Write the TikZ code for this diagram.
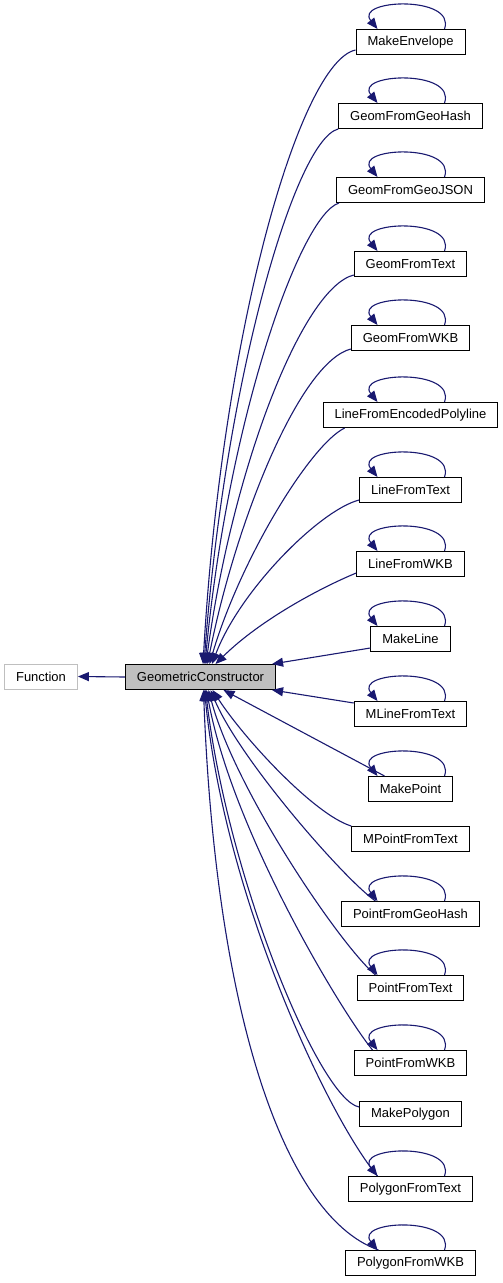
\documentclass[tikz,border=0pt]{standalone}
\usepackage{fontspec}
\setmainfont{Liberation Sans}
\usepackage{tikz}
\usetikzlibrary{calc}
\usetikzlibrary{arrows.meta}
\definecolor{edgeblue}{HTML}{191970}
\definecolor{boxgray}{HTML}{BFBFBF}
\tikzset{cls/.style={draw=black,fill=white,line width=1pt,minimum height=25pt,inner xsep=11.5pt,inner ysep=0pt,font=\fontsize{13pt}{15pt}\selectfont}}
\tikzset{base/.style={cls,draw=boxgray}}
\tikzset{current/.style={cls,fill=boxgray}}
\tikzset{edge/.style={draw=edgeblue,line width=1.1pt,-{Triangle[length=11pt,width=9pt]}}}

\begin{document}
\begin{tikzpicture}[x=1pt,y=-1pt]
\useasboundingbox (0,0) rectangle (503,1283);
\node[base] (Fn) at (41,676.5) {Function};
\node[current] (GC) at (200.5,677) {GeometricConstructor};
\foreach \n/\t/\y in {ME/MakeEnvelope/42, GH/GeomFromGeoHash/116, GJ/GeomFromGeoJSON/190,
	GT/GeomFromText/264, GW/GeomFromWKB/338, LE/LineFromEncodedPolyline/415,
	LT/LineFromText/490, LW/LineFromWKB/564, ML/MakeLine/639, MLT/MLineFromText/714,
	MP/MakePoint/789, MPT/MPointFromText/839, PGH/PointFromGeoHash/914,
	PT/PointFromText/988, PW/PointFromWKB/1063, MPg/MakePolygon/1114,
	PFT/PolygonFromText/1189, PFW/PolygonFromWKB/1263} {
	\node[cls] (\n) at (410.5,\y) {\t};
}
% self loops
\foreach \n in {ME,GH,GJ,GT,GW,LE,LT,LW,ML,MLT,MP,PGH,PT,PW,PFT,PFW} {
	\draw[edge] ([xshift=34pt]\n.north) .. controls +(12,-34) and +(-24,-30) .. ([xshift=-33pt]\n.north);
}
\draw[edge] (GC.west) -- (Fn.east);
% upper children
\draw[edge] ([yshift=5pt]ME.south west) .. controls (300,62) and (222,330) .. ([xshift=2.5pt]GC.north);
\draw[edge] (GH.south west) .. controls (295,140) and (225,380) .. ([xshift=3.5pt]GC.north);
\draw[edge] ([xshift=3pt]GJ.south west) .. controls (300,215) and (228,420) .. ([xshift=4.5pt]GC.north);
\draw[edge] ([yshift=2pt]GT.south west) .. controls (302,288) and (232,470) .. ([xshift=5.5pt]GC.north);
\draw[edge] ([yshift=2pt]GW.south west) .. controls (300,362) and (236,520) .. ([xshift=7pt]GC.north);
\draw[edge] ([xshift=22pt]LE.south west) .. controls (310,445) and (240,560) .. ([xshift=9pt]GC.north);
\draw[edge] ([yshift=3pt]LT.south west) .. controls (320,510) and (240,590) .. ([xshift=11.5pt]GC.north);
\draw[edge] ([yshift=4pt]LW.south west) .. controls (320,588) and (260,620) .. ([xshift=15pt]GC.north);
\draw[edge] ([yshift=4pt]ML.south west) -- ([xshift=-4pt]GC.north east);
% lower children
\draw[edge] ([yshift=-2pt]MLT.north west) -- ([xshift=-4pt]GC.south east);
\draw[edge] ([xshift=-26pt]MP.north) -- ([xshift=23pt]GC.south);
\draw[edge] (MPT.north west) .. controls (315,815) and (245,740) .. ([xshift=12pt]GC.south);
\draw[edge] ([xshift=-35pt]PGH.north) .. controls (345,880) and (240,760) .. ([xshift=10pt]GC.south);
\draw[edge] ([xshift=-35pt]PT.north) .. controls (340,945) and (235,790) .. ([xshift=8pt]GC.south);
\draw[edge] ([xshift=-38pt]PW.north) .. controls (340,1010) and (232,830) .. ([xshift=6pt]GC.south);
\draw[edge] ([yshift=-6pt]MPg.north west) .. controls (320,1100) and (228,880) .. ([xshift=5pt]GC.south);
\draw[edge] ([xshift=-33pt]PFT.north) .. controls (330,1120) and (225,900) .. ([xshift=4pt]GC.south);
\draw[edge] ([xshift=-32pt]PFW.north) .. controls (280,1215) and (215,1000) .. ([xshift=3pt]GC.south);
\end{tikzpicture}
\end{document}
